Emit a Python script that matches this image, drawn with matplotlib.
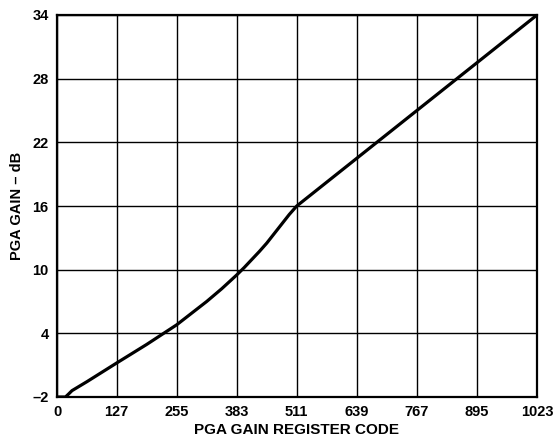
import matplotlib
matplotlib.use("Agg")
import matplotlib.pyplot as plt

codes = [0, 18, 24, 32, 64, 127, 191, 255, 319, 351, 383, 399, 415, 431, 447, 463, 479, 495, 511, 639, 767, 895, 1023]
gain_db = [-2.0, -2.0, -1.75, -1.4, -0.55, 1.2, 2.95, 4.8, 7.0, 8.2, 9.5, 10.2, 10.95, 11.7, 12.5, 13.4, 14.3, 15.2, 16.0, 20.5, 25.0, 29.5, 34.0]

xticks = [0, 127, 255, 383, 511, 639, 767, 895, 1023]
yticks = [-2, 4, 10, 16, 22, 28, 34]
ytick_labels = ["–2", "4", "10", "16", "22", "28", "34"]

plt.rcParams['font.family'] = ['Liberation Sans', 'DejaVu Sans']

fig = plt.figure(figsize=(5.53, 4.42), dpi=100)
ax = fig.add_axes([57/553, 1-397/442, 480/553, 382/442])

ax.plot(codes, gain_db, color='black', linewidth=2.3, solid_joinstyle='round', zorder=3)

ax.set_xlim(0, 1023)
ax.set_ylim(-2, 34)
ax.set_xticks(xticks)
ax.set_xticklabels([str(t) for t in xticks], fontweight='bold', fontsize=10.5)
ax.set_yticks(yticks)
ax.set_yticklabels(ytick_labels, fontweight='bold', fontsize=10.5)
ax.tick_params(length=0, pad=6)
ax.grid(True, color='black', linewidth=1.0)
for s in ax.spines.values():
    s.set_linewidth(1.6)

ax.set_xlabel("PGA GAIN REGISTER CODE", fontweight='bold', fontsize=11, labelpad=3)
ax.set_ylabel("PGA GAIN – dB", fontweight='bold', fontsize=10.5, labelpad=6)

fig.savefig("out.png", dpi=100)
